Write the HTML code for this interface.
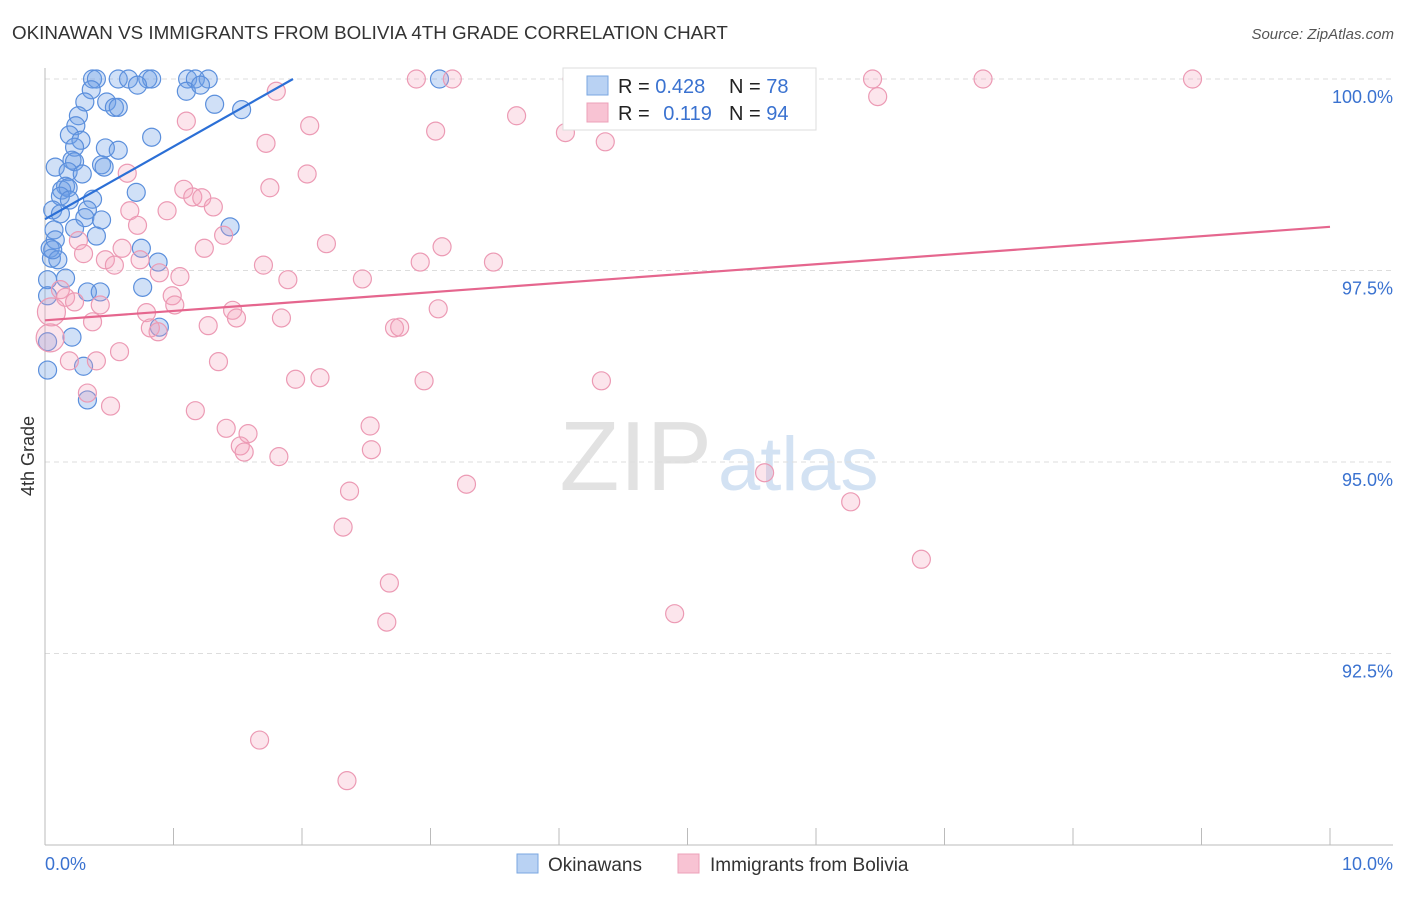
<!DOCTYPE html>
<html><head><meta charset="utf-8">
<style>
body{margin:0;background:#fff;font-family:"Liberation Sans",sans-serif;}
svg text{font-family:"Liberation Sans",sans-serif;}
</style></head>
<body>
<svg id="chart" width="1406" height="892" viewBox="0 0 1406 892" xmlns="http://www.w3.org/2000/svg">
<text x="12" y="39" font-size="18.8" fill="#333">OKINAWAN VS IMMIGRANTS FROM BOLIVIA 4TH GRADE CORRELATION CHART</text>
<text x="1394" y="39" font-size="15" fill="#555" text-anchor="end" font-style="italic">Source: ZipAtlas.com</text>
<g>
<text x="712" y="490" font-size="98" fill="#e2e2e2" text-anchor="end" font-family="Liberation Serif,serif">ZIP</text>
<text x="718" y="490" font-size="76" fill="#d3e2f3">atlas</text>
</g>
<g id="grid"></g>
<g id="axes"></g>
<g id="blue-pts"></g>
<g id="pink-pts"></g>
<g id="trends"></g>
<text transform="translate(34,456) rotate(-90)" font-size="18" fill="#333" text-anchor="middle">4th Grade</text>
<g>
<rect x="563" y="68" width="253" height="62" fill="#fff" stroke="#ddd"/>
<rect x="587" y="76" width="21" height="19" fill="#b9d2f3" stroke="#7aa7e0"/>
<rect x="587" y="103" width="21" height="19" fill="#f8c3d3" stroke="#eda0b8"/>
<text x="618" y="93" font-size="20" fill="#222">R = <tspan fill="#3a72d0">0.428</tspan></text>
<text x="729" y="93" font-size="20" fill="#222">N = <tspan fill="#3a72d0">78</tspan></text>
<text x="618" y="120" font-size="20" fill="#222">R = <tspan fill="#3a72d0" dx="8">0.119</tspan></text>
<text x="729" y="120" font-size="20" fill="#222">N = <tspan fill="#3a72d0">94</tspan></text>
</g>
<g>
<rect x="517" y="854" width="21" height="19" fill="#b9d2f3" stroke="#7aa7e0"/>
<text x="548" y="871" font-size="19" fill="#333">Okinawans</text>
<rect x="678" y="854" width="21" height="19" fill="#f8c3d3" stroke="#eda0b8"/>
<text x="710" y="871" font-size="19" fill="#333">Immigrants from Bolivia</text>
</g>
</svg>
<script>
const yTicks=[100,97.5,95,92.5];
const yTickLabels=["100.0%","97.5%","95.0%","92.5%"];
const xTickLabels=["0.0%","10.0%"];
const blueX=[0.37,0.40,0.57,0.65,0.80,0.83,1.11,1.17,1.27,3.07,0.72,0.36,1.10,1.21,0.31,0.48,0.54,0.57,1.32,1.53,0.26,0.24,0.19,0.28,0.83,0.23,0.47,0.57,0.21,0.08,0.23,0.44,0.46,0.18,0.29,0.16,0.13,0.18,0.12,0.19,0.37,0.71,0.06,0.33,0.12,0.31,0.44,0.07,0.23,0.40,1.44,0.08,0.04,0.75,0.05,0.10,0.88,0.02,0.16,0.33,0.43,0.76,0.02,0.89,0.21,0.02,0.02,0.30,0.33,0.06];
const blueY=[100,100,100,100,100,100,100,100,100,100,99.92,99.86,99.84,99.92,99.70,99.70,99.63,99.63,99.67,99.60,99.52,99.39,99.27,99.20,99.24,99.11,99.10,99.07,98.94,98.85,98.92,98.88,98.85,98.79,98.76,98.60,98.55,98.58,98.47,98.42,98.43,98.52,98.29,98.29,98.24,98.19,98.16,98.03,98.05,97.95,98.07,97.90,97.79,97.79,97.66,97.64,97.61,97.38,97.40,97.22,97.22,97.28,97.17,96.76,96.63,96.57,96.20,96.25,95.81,97.77];
const pinkX=[4.10,2.89,3.17,4.99,5.56,6.44,7.30,8.93,1.80,6.48,3.67,1.10,2.06,3.04,4.05,4.36,1.72,2.04,0.64,1.08,1.75,1.15,1.22,1.31,0.66,0.95,0.72,1.39,0.26,2.19,3.09,0.60,1.24,0.30,0.47,0.74,0.54,2.92,3.49,1.70,0.89,1.05,1.89,2.47,0.12,0.16,0.99,0.43,0.23,1.46,3.06,1.01,0.79,1.49,0.37,1.84,1.27,0.82,0.88,2.72,2.76,0.05,0.04,0.58,0.19,0.40,1.35,1.95,2.14,2.95,4.33,0.33,0.51,1.17,1.41,1.58,2.53,1.52,1.55,1.82,2.54,3.28,2.37,5.60,6.27,2.32,6.82,2.68,2.66,4.90,1.67,2.35];
const pinkY=[100,100,100,100,100,100,100,100,99.84,99.77,99.52,99.45,99.39,99.32,99.30,99.18,99.16,98.76,98.77,98.56,98.58,98.46,98.45,98.33,98.28,98.28,98.09,97.96,97.89,97.85,97.81,97.79,97.79,97.72,97.64,97.64,97.57,97.61,97.61,97.57,97.47,97.42,97.38,97.39,97.25,97.15,97.17,97.05,97.09,96.98,97.00,97.05,96.95,96.88,96.83,96.88,96.78,96.75,96.70,96.75,96.76,96.96,96.62,96.44,96.32,96.32,96.31,96.08,96.10,96.06,96.06,95.90,95.73,95.67,95.44,95.37,95.47,95.21,95.13,95.07,95.16,94.71,94.62,94.86,94.48,94.15,93.73,93.42,92.91,93.02,91.37,90.84];
const blueTrendX=[0,1.93];
const blueTrendY=[98.17,100];
const pinkTrendX=[0,10];
const pinkTrendY=[96.85,98.07];

const NS="http://www.w3.org/2000/svg";
const X=v=>45+v*128.5;
const Y=v=>79+(100-v)*76.6;
function mk(parent,tag,attrs){const e=document.createElementNS(NS,tag);for(const k in attrs)e.setAttribute(k,attrs[k]);document.getElementById(parent).appendChild(e);return e;}

yTicks.forEach((t,i)=>{
  const l=mk('grid','line',{x1:45,x2:1393,y1:Y(t),y2:Y(t),stroke:'#ddd','stroke-dasharray':'5,4'});
  
  
  const tx=mk('grid','text',{x:1393,y:Y(t)+24,'font-size':18,fill:'#3a72d0','text-anchor':'end'});
  tx.textContent=yTickLabels[i];
  
  
});
let a=mk('axes','line',{x1:45,x2:45,y1:68,y2:845,stroke:'#bbb'});


a=mk('axes','line',{x1:45,x2:1393,y1:845,y2:845,stroke:'#bbb'});


for(let i=0;i<=10;i++){
  const t=mk('axes','line',{x1:X(i),x2:X(i),y1:828,y2:845,stroke:'#bbb'});
  
  
}
[[0,'start'],[10,'end']].forEach((p,i)=>{
  const tx=mk('axes','text',{x:i?1393:45,y:870,'font-size':18,fill:'#3a72d0','text-anchor':p[1]});
  tx.textContent=xTickLabels[i];
  
  
});
blueX.forEach((v,i)=>{
  const c=mk('blue-pts','circle',{cx:X(v),cy:Y(blueY[i]),r:9,fill:'rgba(110,160,230,0.32)',stroke:'#5b8fdc','stroke-width':1.2});
  
  
});
pinkX.forEach((v,i)=>{
  const big=(v<0.06&&pinkY[i]>96.5&&pinkY[i]<97);
  const c=mk('pink-pts','circle',{cx:X(v),cy:Y(pinkY[i]),r:big?14:9,fill:'rgba(245,160,185,0.28)',stroke:'#ec9ab4','stroke-width':1.2});
  
  
});
let tl=mk('trends','line',{x1:X(blueTrendX[0]),y1:Y(blueTrendY[0]),x2:X(blueTrendX[1]),y2:Y(blueTrendY[1]),stroke:'#2b6fd6','stroke-width':2.2});


tl=mk('trends','line',{x1:X(pinkTrendX[0]),y1:Y(pinkTrendY[0]),x2:X(pinkTrendX[1]),y2:Y(pinkTrendY[1]),stroke:'#e5668e','stroke-width':2.2});


</script>
</body></html>
